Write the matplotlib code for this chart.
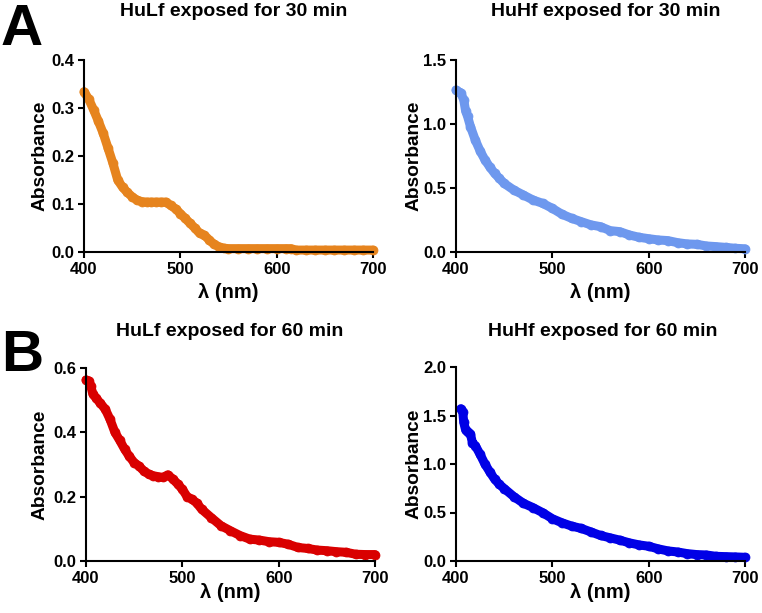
import matplotlib
matplotlib.use("Agg")
import matplotlib.pyplot as plt

plt.rcParams['font.family'] = ['Liberation Sans', 'DejaVu Sans']
plt.rcParams['font.weight'] = 'bold'

# ---------------- data ----------------
wl_lf30 = [400, 405, 410, 415, 420, 425, 430, 435, 440, 445, 450, 455, 460, 465, 470, 475, 480, 485, 490,
           495, 500, 505, 510, 515, 520, 525, 530, 535, 540, 545, 550, 560, 570, 580, 590, 600, 610, 615,
           620, 630, 640, 650, 660, 670, 680, 690, 700]
abs_lf30 = [0.334, 0.318, 0.296, 0.272, 0.247, 0.216, 0.185, 0.150, 0.135, 0.124, 0.115, 0.108, 0.105, 0.104,
            0.104, 0.104, 0.104, 0.104, 0.097, 0.090, 0.080, 0.070, 0.060, 0.050, 0.039, 0.035, 0.025, 0.016,
            0.011, 0.008, 0.007, 0.007, 0.007, 0.007, 0.007, 0.007, 0.007, 0.007, 0.004, 0.004, 0.004, 0.004,
            0.004, 0.004, 0.004, 0.004, 0.004]

wl_hf30 = [400, 403, 405, 408, 410, 412, 415, 420, 425, 430, 435, 440, 445, 450, 460, 470, 480, 490, 500, 510,
           520, 530, 540, 550, 560, 570, 580, 590, 600, 610, 620, 630, 640, 650, 660, 670, 680, 690, 700]
abs_hf30 = [1.266, 1.25, 1.24, 1.19, 1.10, 1.06, 0.98, 0.875, 0.79, 0.72, 0.665, 0.615, 0.575, 0.536, 0.484,
            0.445, 0.406, 0.380, 0.341, 0.295, 0.263, 0.237, 0.212, 0.198, 0.167, 0.159, 0.133, 0.115, 0.104,
            0.094, 0.089, 0.073, 0.063, 0.060, 0.047, 0.042, 0.036, 0.029, 0.025]

wl_lf60 = [400, 403, 405, 407, 410, 415, 420, 425, 430, 435, 440, 445, 450, 455, 460, 465, 470, 475, 480, 485,
           490, 495, 500, 505, 510, 515, 520, 530, 540, 550, 560, 570, 580, 590, 600, 610, 620, 630, 640, 650,
           660, 670, 680, 690, 700]
abs_lf60 = [0.563, 0.560, 0.544, 0.520, 0.508, 0.490, 0.472, 0.440, 0.400, 0.375, 0.348, 0.325, 0.306, 0.295,
            0.280, 0.270, 0.265, 0.262, 0.260, 0.268, 0.255, 0.240, 0.223, 0.200, 0.192, 0.180, 0.161, 0.135,
            0.110, 0.094, 0.079, 0.068, 0.065, 0.060, 0.058, 0.052, 0.042, 0.039, 0.034, 0.032, 0.029, 0.027,
            0.021, 0.020, 0.020]

wl_hf60 = [405, 407, 408, 410, 412, 415, 417, 420, 425, 430, 435, 440, 445, 450, 460, 470, 480, 490, 500, 510,
           520, 530, 540, 550, 560, 570, 580, 590, 600, 610, 620, 630, 640, 650, 660, 670, 680, 690, 700]
abs_hf60 = [1.57, 1.54, 1.43, 1.35, 1.33, 1.31, 1.22, 1.19, 1.10, 1.00, 0.92, 0.845, 0.79, 0.747, 0.664, 0.595,
            0.550, 0.498, 0.436, 0.394, 0.360, 0.336, 0.300, 0.263, 0.239, 0.215, 0.187, 0.166, 0.152, 0.125,
            0.104, 0.093, 0.076, 0.066, 0.062, 0.048, 0.045, 0.042, 0.038]

titles = ["HuLf exposed for 30 min", "HuHf exposed for 30 min",
          "HuLf exposed for 60 min", "HuHf exposed for 60 min"]
colors = ["#E6841E", "#6E98EE", "#D90000", "#0000E6"]
ylims = [0.4, 1.5, 0.6, 2.0]
yticks = [[0.0, 0.1, 0.2, 0.3, 0.4], [0.0, 0.5, 1.0, 1.5],
          [0.0, 0.2, 0.4, 0.6], [0.0, 0.5, 1.0, 1.5, 2.0]]
xticks = [400, 500, 600, 700]
series = [(wl_lf30, abs_lf30), (wl_hf30, abs_hf30), (wl_lf60, abs_lf60), (wl_hf60, abs_hf60)]

W, H = 762, 613
fig = plt.figure(figsize=(W / 100, H / 100), dpi=100)

# axes rectangles in pixels: (left, right, top, bottom)
rects = [(84, 373, 60, 252), (456, 745, 60, 252), (86, 375, 368, 561), (456, 745, 367, 561)]
title_pos = [(234, 11), (606, 11), (230, 331), (603, 331)]
ylabel_x = [40, 414, 40, 414]
xlabel_y = [293, 293, 593, 593]

for i in range(4):
    l, r, t, b = rects[i]
    ax = fig.add_axes([l / W, 1 - b / H, (r - l) / W, (b - t) / H])
    x, y = series[i]
    ax.plot(x, y, color=colors[i], lw=6.5, solid_capstyle='round', solid_joinstyle='round', clip_on=False)
    ax.plot(x, y, 'o', color=colors[i], ms=6.5, mec=colors[i], mew=0.5, clip_on=False)
    ax.set_xlim(400, 700)
    ax.set_ylim(0, ylims[i])
    ax.set_xticks(xticks)
    ax.set_yticks(yticks[i])
    ax.set_yticklabels([f"{v:.1f}" for v in yticks[i]])
    for s in ['top', 'right']:
        ax.spines[s].set_visible(False)
    for s in ['left', 'bottom']:
        ax.spines[s].set_linewidth(1.5)
    ax.tick_params(direction='out', length=4, width=1.5, labelsize=12, pad=3)
    for lab in ax.get_xticklabels() + ax.get_yticklabels():
        lab.set_fontweight('bold')
    fig.text(title_pos[i][0] / W, 1 - title_pos[i][1] / H, titles[i], ha='center', va='center',
             fontsize=14, fontweight='bold')
    fig.text(ylabel_x[i] / W, 1 - ((t + b) / 2) / H, "Absorbance", rotation=90, ha='center', va='center',
             fontsize=13.8, fontweight='bold')
    fig.text(((l + r) / 2) / W, 1 - xlabel_y[i] / H, "λ (nm)", ha='center', va='center',
             fontsize=14.5, fontweight='bold')

fig.text(1 / W, 1 - 45 / H, "A", ha='left', va='baseline', fontsize=42, fontweight='bold')
fig.text(1 / W, 1 - 371 / H, "B", ha='left', va='baseline', fontsize=42, fontweight='bold')

fig.savefig("out.png", dpi=100)
